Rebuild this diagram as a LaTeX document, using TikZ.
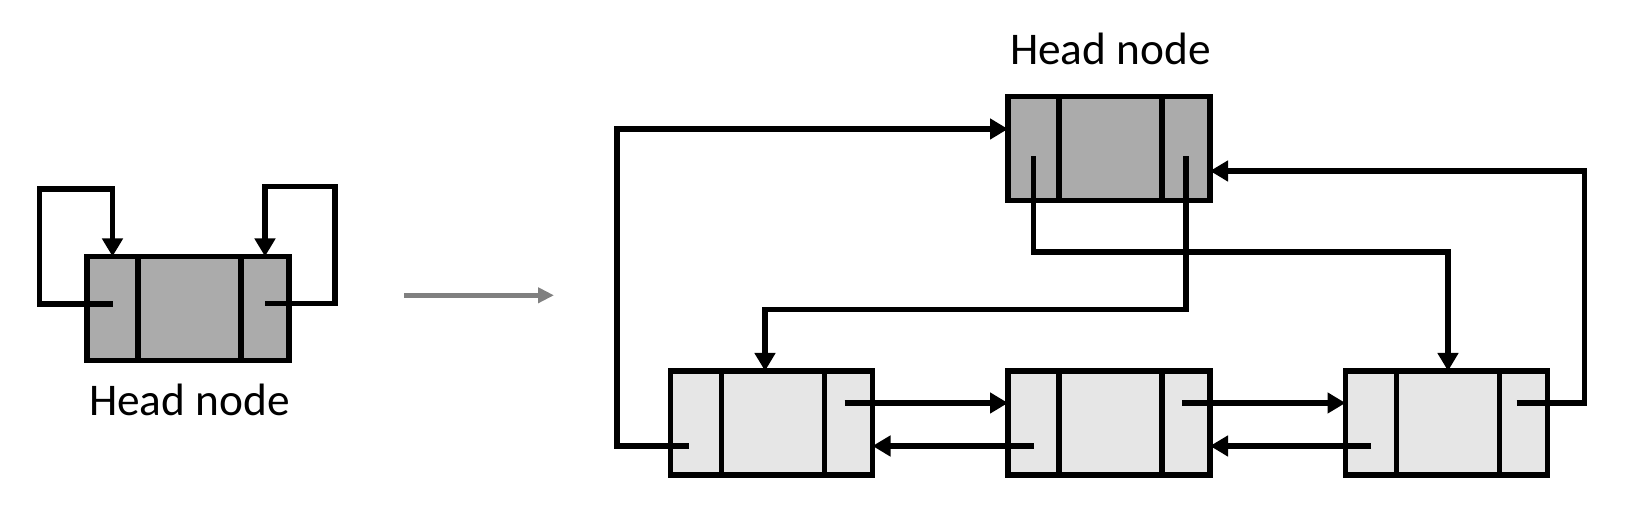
\documentclass[tikz,border=0pt]{standalone}
\usepackage{fontspec}
\setmainfont{Carlito}
\usetikzlibrary{shapes, arrows.meta, positioning, calc}
\definecolor{headgray}{HTML}{ABABAB}
\definecolor{itemgray}{HTML}{E6E6E6}
\definecolor{stepgray}{HTML}{808080}
\tikzstyle{cell} = [rectangle, draw=black, line width=1.6pt, minimum height=1.04cm, inner sep=0pt, outer sep=0pt]
\tikzstyle{lcell} = [cell, minimum width=0.51cm]
\tikzstyle{mcell} = [cell, minimum width=1.03cm]
\tikzstyle{rcell} = [cell, minimum width=0.48cm]
\tikzstyle{head} = [fill=headgray]
\tikzstyle{item} = [fill=itemgray]
\tikzstyle{title} = [inner sep=0pt, font=\fontsize{12.9}{15}\selectfont]
\tikzstyle{ptr} = [line width=1.6pt, -{Triangle[length=0.18cm, width=0.2cm]}]
\tikzstyle{morph} = [line width=1.4pt, draw=stepgray, -{Triangle[length=0.16cm, width=0.15cm]}]

\begin{document}
\begin{tikzpicture}
\useasboundingbox (0,0) rectangle (16.34,5.12);
% empty list: only the head node
\node(lhl) [lcell, head, anchor=west] at (0.87,2.035) {};
\node(lhm) [mcell, head, right=0pt of lhl] {};
\node(lhr) [rcell, head, right=0pt of lhm] {};
\node(lhtxt) [title, below=0.23cm of lhm] {Head node};
\draw[ptr] (lhl.center) ++(0,0.045) -- ++(-0.73,0) -- ++(0,1.15) -| (lhl.north);
\draw[ptr] (lhr.center) ++(0,0.05) -- ++(0.70,0) -- ++(0,1.17) -| (lhr.north);

% step arrow
\coordinate (from) at (4.04,2.167);
\coordinate (to) at (5.54,2.167);
\draw[morph] (from) -- (to);

% head node of the filled list
\node(thl) [lcell, head, anchor=west] at (10.08,3.635) {};
\node(thm) [mcell, head, right=0pt of thl] {};
\node(thr) [rcell, head, right=0pt of thm] {};
\node(thtxt) [title, above=0.31cm of thm] {Head node};

% list items
\node(n1l) [lcell, item, anchor=west] at (6.705,0.89) {};
\node(n1m) [mcell, item, right=0pt of n1l] {};
\node(n1r) [rcell, item, right=0pt of n1m] {};
\node(n2l) [lcell, item, right=1.355cm of n1r] {};
\node(n2m) [mcell, item, right=0pt of n2l] {};
\node(n2r) [rcell, item, right=0pt of n2m] {};
\node(n3l) [lcell, item, right=1.355cm of n2r] {};
\node(n3m) [mcell, item, right=0pt of n3l] {};
\node(n3r) [rcell, item, right=0pt of n3m] {};

\draw[ptr] (n1r.center) ++(-0.04,0.2) -- ($(n2l.west)+(0,0.2)$);
\draw[ptr] (n2l.center) ++(0,-0.23) -- ($(n1r.east)+(0,-0.23)$);
\draw[ptr] (n2r.center) ++(-0.04,0.2) -- ($(n3l.west)+(0,0.2)$);
\draw[ptr] (n3l.center) ++(0,-0.23) -- ($(n2r.east)+(0,-0.23)$);
\draw[ptr] (n1l.center) ++(-0.07,-0.23) -- ++(-0.72,0) |- ($(thl.west)+(0,0.195)$);
\draw[ptr] (thl.center) ++(0,-0.08) -- ++(0,-0.955) -| (n3m.north);
\draw[ptr] (thr.center) ++(0,-0.08) -- ++(0,-1.53) -| ($(n1m.north)+(-0.08,0)$);
\draw[ptr] (n3r.center) ++(-0.07,0.2) -- ++(0.68,0) |- ($(thr.east)+(0,-0.225)$);
\end{tikzpicture}
\end{document}
